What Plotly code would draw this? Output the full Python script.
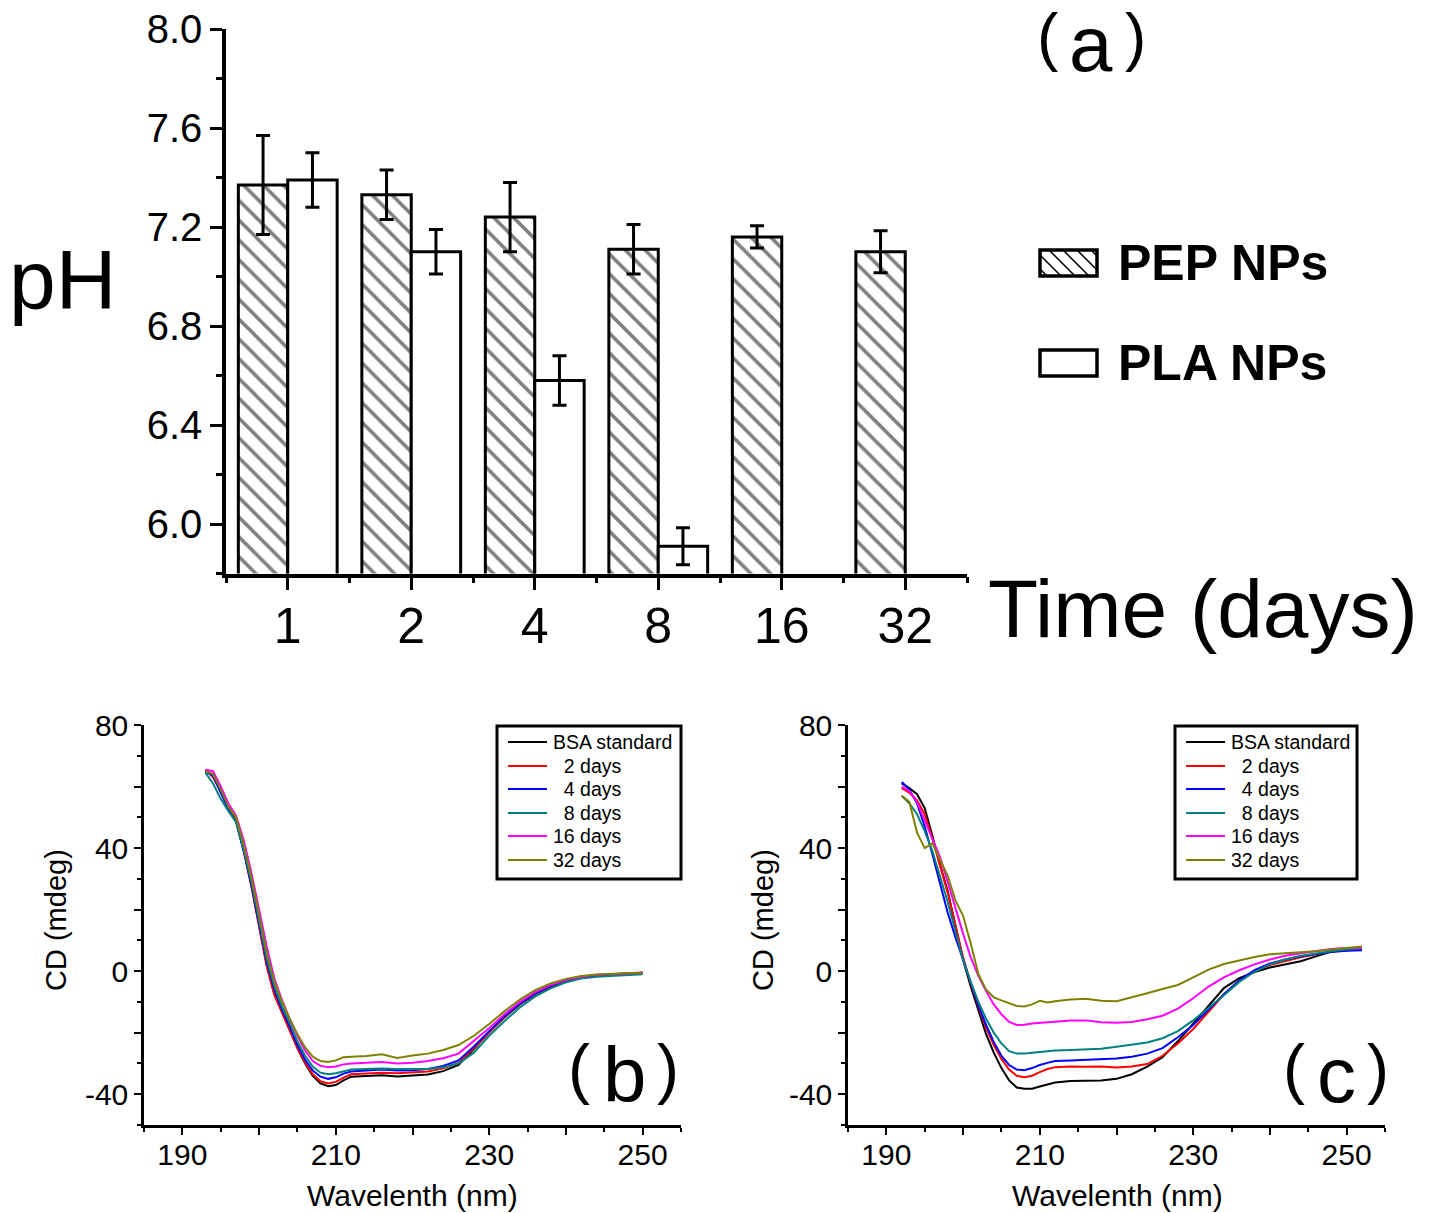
import plotly.graph_objects as go

W, H = 1432, 1213

# ---------------- data: panel (a) ----------------
days = ["1", "2", "4", "8", "16", "32"]
pep_ph = [7.37, 7.33, 7.24, 7.11, 7.16, 7.10]
pep_err = [0.20, 0.10, 0.14, 0.10, 0.045, 0.085]
pla_ph = [7.39, 7.10, 6.58, 5.91, None, None]
pla_err = [0.11, 0.09, 0.10, 0.075, None, None]

# ---------------- data: panel (b) ----------------
wl_b = [193, 194, 195, 196, 197, 198, 199, 200, 201, 202, 203, 204, 205, 206, 207, 208, 209, 210,
        211, 212, 214, 216, 218, 220, 222, 224, 226, 228, 230, 232, 234, 236, 238, 240, 242, 244,
        246, 248, 250]
b_bsa = [65.0, 64.0, 59.0, 52.6, 49.5, 39.5, 28.0, 15.0, 2.0, -7.5, -13.5, -19.0, -25.0, -30.0,
         -34.0, -36.5, -37.4, -37.0, -35.5, -34.3, -34.0, -33.8, -34.2, -34.0, -33.6, -32.5, -30.5,
         -25.3, -19.8, -15.0, -10.8, -7.5, -5.0, -3.3, -2.1, -1.4, -1.1, -0.8, -0.5]
b_d2 = [65.5, 63.0, 58.5, 53.0, 49.0, 39.0, 27.5, 14.5, 1.5, -7.8, -13.5, -19.0, -25.0, -29.8,
        -33.5, -35.8, -36.5, -36.0, -34.6, -33.5, -33.2, -33.0, -33.2, -33.0, -32.6, -31.6, -29.8,
        -25.0, -19.8, -14.8, -10.5, -7.2, -4.8, -3.1, -2.0, -1.4, -1.0, -0.8, -0.6]
b_d4 = [65.0, 63.5, 58.0, 52.5, 48.5, 39.0, 28.0, 15.5, 3.0, -6.0, -12.5, -18.0, -24.0, -28.8,
        -32.3, -34.3, -35.0, -34.5, -33.3, -32.6, -32.2, -32.0, -32.3, -32.2, -31.8, -30.8, -29.0,
        -24.5, -19.5, -14.6, -10.5, -7.2, -4.8, -3.0, -1.9, -1.3, -1.0, -0.8, -0.6]
b_d8 = [64.5, 61.0, 56.0, 52.0, 48.5, 39.5, 29.0, 16.5, 4.0, -5.0, -11.5, -17.0, -22.8, -27.5,
        -31.0, -33.0, -33.5, -33.2, -32.5, -32.0, -31.8, -31.6, -31.8, -31.8, -31.8, -31.2, -30.0,
        -26.5, -21.0, -16.2, -11.8, -8.2, -5.6, -3.6, -2.4, -1.8, -1.5, -1.2, -1.0]
b_d16 = [65.5, 65.0, 60.0, 54.5, 50.5, 42.5, 32.0, 20.0, 8.0, -2.5, -9.5, -15.5, -21.0, -25.8,
         -29.2, -30.8, -31.2, -31.0, -30.3, -30.0, -29.8, -29.5, -30.0, -29.8, -29.2, -28.3, -26.8,
         -22.8, -18.5, -14.0, -10.0, -6.8, -4.5, -2.8, -1.8, -1.2, -0.9, -0.7, -0.5]
b_d32 = [65.0, 64.0, 59.0, 53.5, 50.0, 41.0, 30.5, 18.0, 6.0, -3.5, -10.0, -15.5, -20.5, -24.8,
         -27.8, -29.2, -29.5, -29.0, -28.0, -27.8, -27.6, -27.0, -28.2, -27.4, -26.8, -25.6, -24.0,
         -21.0, -17.2, -13.0, -9.2, -6.2, -4.0, -2.5, -1.6, -1.1, -0.8, -0.5, -0.4]

# ---------------- data: panel (c) ----------------
wl_c = [192, 193, 194, 195, 196, 197, 198, 199, 200, 201, 202, 203, 204, 205, 206, 207, 208, 209,
        210, 211, 212, 214, 216, 218, 220, 222, 224, 226, 228, 230, 232, 234, 236, 238, 240, 242,
        244, 246, 248, 250, 252]
c_bsa = [61.0, 59.5, 57.5, 53.0, 44.0, 34.5, 26.0, 15.0, 3.6, -5.0, -13.0, -20.5, -26.5, -31.5,
         -35.5, -37.8, -38.2, -38.2, -37.5, -36.8, -36.2, -35.7, -35.6, -35.5, -35.0, -33.5, -31.0,
         -28.0, -22.8, -17.0, -11.2, -5.5, -2.3, -0.3, 1.2, 2.2, 3.2, 4.8, 6.4, 6.8, 7.0]
c_d2 = [59.5, 58.0, 55.5, 51.0, 43.0, 34.0, 25.5, 15.0, 4.5, -4.0, -11.5, -18.5, -24.0, -28.5,
        -32.0, -34.0, -34.5, -34.0, -32.8, -31.8, -31.2, -31.0, -31.1, -31.0, -31.3, -31.0, -30.2,
        -27.5, -23.5, -18.8, -13.2, -7.5, -3.2, 0.0, 2.0, 3.3, 4.5, 5.5, 6.4, 7.0, 7.4]
c_d4 = [61.5, 59.0, 54.5, 47.0, 38.0, 28.0, 19.0, 11.0, 3.6, -4.0, -11.0, -17.5, -23.0, -27.5,
        -30.5, -32.0, -32.2, -31.5, -30.5, -29.8, -29.2, -29.0, -28.8, -28.6, -28.4, -27.8, -26.8,
        -25.0, -21.5, -17.5, -12.5, -7.5, -3.0, 0.3, 2.5, 3.8, 4.8, 5.6, 6.2, 6.6, 6.8]
c_d8 = [57.0, 54.5, 51.0, 45.5, 39.0, 31.0, 22.5, 13.0, 3.6, -3.5, -10.0, -15.5, -20.0, -23.5,
        -26.0, -26.8, -26.8, -26.5, -26.2, -26.0, -25.8, -25.6, -25.5, -25.2, -24.6, -24.0, -23.2,
        -21.8, -19.5, -16.0, -12.0, -7.8, -3.5, -0.2, 2.2, 3.8, 5.0, 5.8, 6.5, 7.0, 7.4]
c_d16 = [60.0, 58.5, 55.0, 49.0, 43.0, 37.0, 29.0, 20.5, 12.2, 4.5, -1.5, -6.5, -10.8, -14.0,
         -16.5, -17.5, -17.4, -17.0, -16.8, -16.6, -16.3, -16.0, -16.0, -16.6, -16.8, -16.5, -15.6,
         -14.5, -12.2, -8.8, -5.0, -2.0, 0.3, 2.2, 3.8, 5.0, 5.8, 6.5, 7.2, 7.5, 7.6]
c_d32 = [57.0, 55.0, 45.0, 40.0, 41.5, 36.0, 31.0, 23.0, 18.0, 9.0, -1.0, -6.0, -8.5, -9.5,
         -10.5, -11.3, -11.5, -10.8, -9.6, -10.2, -9.8, -9.2, -9.0, -9.6, -9.8, -8.6, -7.2, -5.8,
         -4.5, -2.0, 0.5, 2.3, 3.5, 4.6, 5.5, 5.8, 6.0, 6.5, 7.0, 7.6, 8.0]

series_names = ["BSA standard", "\u20072 days", "\u20074 days", "\u20078 days", "16 days", "32 days"]
series_colors = ["#000000", "#FF0000", "#0000FF", "#008080", "#FF00FF", "#808000"]


def px(x):
    return x / W


def py(y):
    return 1 - y / H


FONT = "Liberation Sans, Arial, sans-serif"

fig = go.Figure()

# ---------------- panel (a) bars ----------------
xi = list(range(len(days)))
fig.add_trace(go.Bar(
    x=xi, y=pep_ph, name="PEP NPs", xaxis="x", yaxis="y", showlegend=False,
    marker=dict(color="white", line=dict(color="black", width=3),
                pattern=dict(shape="\\", fgcolor="black", bgcolor="white", size=14, solidity=0.26)),
    error_y=dict(type="data", array=pep_err, color="black", thickness=3, width=7),
))
fig.add_trace(go.Bar(
    x=xi, y=pla_ph, name="PLA NPs", xaxis="x", yaxis="y", showlegend=False,
    marker=dict(color="white", line=dict(color="black", width=3)),
    error_y=dict(type="data", array=pla_err, color="black", thickness=3, width=7),
))

# ---------------- panels (b), (c) lines ----------------
b_series = [b_bsa, b_d2, b_d4, b_d8, b_d16, b_d32]
c_series = [c_bsa, c_d2, c_d4, c_d8, c_d16, c_d32]
for name, col, vals in zip(series_names, series_colors, b_series):
    fig.add_trace(go.Scatter(x=wl_b, y=vals, mode="lines", name=name, xaxis="x2", yaxis="y2",
                             line=dict(color=col, width=2), showlegend=False))
for name, col, vals in zip(series_names, series_colors, c_series):
    fig.add_trace(go.Scatter(x=wl_c, y=vals, mode="lines", name=name, xaxis="x3", yaxis="y3",
                             line=dict(color=col, width=2), showlegend=False))

# ---------------- axes ----------------
ax_a = dict(showgrid=False, zeroline=False, showline=True, linecolor="black", linewidth=3.5,
            ticks="outside", tickcolor="black", tickwidth=3, automargin=False)
fig.update_layout(
    xaxis=dict(ax_a, domain=[px(226), px(967)], range=[-0.5, 5.5], anchor="y",
               tickmode="array", tickvals=xi, ticktext=days, ticklen=13,
               tickfont=dict(family=FONT, size=50, color="black"), ticklabelstandoff=-7,
               minor=dict(tickmode="array", tickvals=[i + 0.5 for i in range(-1, len(days))],
                          ticklen=6, tickwidth=3, tickcolor="black", ticks="outside")),
    yaxis=dict(ax_a, domain=[py(573.5), py(29)], range=[5.8, 8.0], anchor="x",
               tickmode="linear", tick0=6.0, dtick=0.4, tickformat=".1f", ticklen=12,
               tickfont=dict(family=FONT, size=40, color="black"), ticklabelstandoff=0,
               minor=dict(dtick=0.2, ticklen=6, tickwidth=3, tickcolor="black", ticks="outside")),
)

def cd_axes(xdom, xa_name, ya_name):
    xax = dict(domain=xdom, range=[185, 255], anchor=ya_name, showgrid=False, zeroline=False,
               showline=True, linecolor="black", linewidth=2.5, ticks="outside", ticklen=7,
               tickwidth=2, tickcolor="black", tickmode="array", automargin=False,
               tickvals=[190, 200, 210, 220, 230, 240, 250],
               ticktext=["190", "", "210", "", "230", "", "250"],
               tickfont=dict(family=FONT, size=30, color="black"), ticklabelstandoff=-6,
               minor=dict(dtick=5, tick0=185, ticklen=4, tickwidth=2, tickcolor="black",
                          ticks="outside"))
    yax = dict(domain=[py(1125), py(725)], range=[-50, 80], anchor=xa_name, showgrid=False,
               zeroline=False, showline=True, linecolor="black", linewidth=2.5, ticks="outside",
               ticklen=7, tickwidth=2, tickcolor="black", tickmode="array", automargin=False,
               tickvals=[-40, -20, 0, 20, 40, 60, 80],
               ticktext=["-40", "", "0", "", "40", "", "80"],
               tickfont=dict(family=FONT, size=30, color="black"),
               minor=dict(dtick=10, tick0=0, ticklen=4, tickwidth=2, tickcolor="black",
                          ticks="outside"))
    return xax, yax

xb, yb = cd_axes([px(144), px(681)], "x2", "y2")
xc, yc = cd_axes([px(848), px(1385)], "x3", "y3")
fig.update_layout(xaxis2=xb, yaxis2=yb, xaxis3=xc, yaxis3=yc)

shapes = []
anns = []

# ---------------- legends (b), (c): drawn boxes ----------------
row_y = [742, 766, 789, 813, 836, 860]
for (bx0, bx1, lx0, lx1, tx) in [(497, 681, 508, 547, 551), (1175, 1357, 1186, 1225, 1229)]:
    shapes.append(dict(type="rect", xref="paper", yref="paper", x0=px(bx0), x1=px(bx1),
                       y0=py(879), y1=py(726), line=dict(color="black", width=3),
                       fillcolor="white", layer="above"))
    for name, col, ry in zip(series_names, series_colors, row_y):
        shapes.append(dict(type="line", xref="paper", yref="paper", x0=px(lx0), x1=px(lx1),
                           y0=py(ry), y1=py(ry), line=dict(color=col, width=2), layer="above"))
        anns.append(dict(text=name, x=px(tx), y=py(ry), xanchor="left",
                         font=dict(family=FONT, size=19.5, color="black")))

# ---------------- panel (a) legend (drawn swatches) ----------------
def hatch_path(x0, y0, x1, y1, step):
    segs = []
    c = x0 - y1 + step / 2
    while c < x1 - y0:
        pts = []
        for (xx, yy) in [(x0, x0 - c), (x1, x1 - c), (y0 + c, y0), (y1 + c, y1)]:
            if x0 - 1e-6 <= xx <= x1 + 1e-6 and y0 - 1e-6 <= yy <= y1 + 1e-6:
                pts.append((xx, yy))
        pts = sorted(set((round(a, 3), round(b, 3)) for a, b in pts))
        if len(pts) >= 2:
            (ax, ay), (bx, by) = pts[0], pts[-1]
            segs.append("M%.5f,%.5f L%.5f,%.5f" % (px(ax), py(ay), px(bx), py(by)))
        c += step
    return " ".join(segs)

legend_a = [("PEP NPs", 250, True), ("PLA NPs", 350, False)]
for label, top, hatched in legend_a:
    x0, x1, y0, y1 = 1040, 1097, top, top + 26
    if hatched:
        shapes.append(dict(type="path", xref="paper", yref="paper",
                           path=hatch_path(x0, y0, x1, y1, 14), line=dict(color="black", width=1.5)))
    shapes.append(dict(type="rect", xref="paper", yref="paper", x0=px(x0), x1=px(x1),
                       y0=py(y1), y1=py(y0), line=dict(color="black", width=3.5)))
    anns.append(dict(text="<b>%s</b>" % label, x=px(1116), y=py(top + 13), xanchor="left",
                     font=dict(family=FONT, size=50, color="black")))

# ---------------- panel tags (a), (b), (c) ----------------
# (left paren x, letter x, right paren x, paren y, letter y, letter, paren size, letter size)
tags = [
    (1047.5, 1091, 1135, 37, 44, "a", 64, 78),
    (579, 624, 667.5, 1068, 1075, "b", 66, 78),
    (1294, 1336.5, 1377.5, 1068, 1075, "c", 66, 78),
]
for lpx, lx, rpx, pyy, ly, letter, psz, lsz in tags:
    anns.append(dict(text="(", x=px(lpx), y=py(pyy), font=dict(family=FONT, size=psz, color="black")))
    anns.append(dict(text=letter, x=px(lx), y=py(ly), font=dict(family=FONT, size=lsz, color="black")))
    anns.append(dict(text=")", x=px(rpx), y=py(pyy), font=dict(family=FONT, size=psz, color="black")))

# ---------------- titles / labels ----------------
anns += [
    dict(text="pH", x=px(62), y=py(280), font=dict(family=FONT, size=84, color="black")),
    dict(text="Time (days)", x=px(1203), y=py(608), font=dict(family=FONT, size=82, color="black")),
    dict(text="CD (mdeg)", x=px(56), y=py(920), textangle=-90,
         font=dict(family=FONT, size=29, color="black")),
    dict(text="CD (mdeg)", x=px(763), y=py(920), textangle=-90,
         font=dict(family=FONT, size=29, color="black")),
    dict(text="Wavelenth (nm)", x=px(412), y=py(1195), font=dict(family=FONT, size=30, color="black")),
    dict(text="Wavelenth (nm)", x=px(1117), y=py(1195), font=dict(family=FONT, size=30, color="black")),
]
for a in anns:
    a.setdefault("xref", "paper")
    a.setdefault("yref", "paper")
    a.setdefault("showarrow", False)
    a.setdefault("xanchor", "center")
    a.setdefault("yanchor", "middle")

fig.update_layout(
    width=W, height=H, autosize=False,
    margin=dict(l=0, r=0, t=0, b=0, pad=0),
    paper_bgcolor="white", plot_bgcolor="white",
    barmode="group", bargap=0.2, bargroupgap=0,
    shapes=shapes, annotations=anns, showlegend=False,
    font=dict(family=FONT, color="black"),
)

fig.write_html("out.html", config={"displayModeBar": False},
               post_script="document.body.style.margin='0px';document.body.style.overflow='hidden';")
